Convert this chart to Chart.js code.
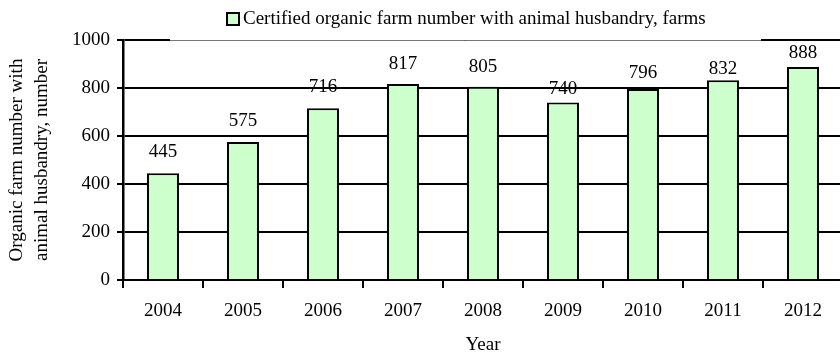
<!DOCTYPE html>
<html>
<head>
<meta charset="utf-8">
<title>Certified organic farms with animal husbandry</title>
<script src="https://cdn.jsdelivr.net/npm/chart.js@4/dist/chart.umd.min.js"></script>
<style>
  html, body { margin: 0; padding: 0; background: #fff; overflow: hidden; }
  #wrap { width: 840px; height: 356px; overflow: hidden; }
</style>
</head>
<body>
<div id="wrap"><canvas id="farmChart" width="850" height="356"></canvas></div>
<script>
// Certified organic farms with animal husbandry, by year
const years = ['2004', '2005', '2006', '2007', '2008', '2009', '2010', '2011', '2012'];
const farms = [445, 575, 716, 817, 805, 740, 796, 832, 888];
const yTicks = [0, 200, 400, 600, 800, 1000];

const seriesName = 'Certified organic farm number with animal husbandry, farms';
const yTitle = ['Organic farm number with', 'animal husbandry, number'];
const xTitle = 'Year';

// how far each value label sits above its bar (px)
const labelLift = [16, 16, 16, 15, 15, 8, 11, 6, 9];

const serif = '"Liberation Serif", "Times New Roman", serif';
const fontSize = 19;
const barFill = '#ccffcc';

Chart.defaults.font.family = serif;
Chart.defaults.font.size = fontSize;
Chart.defaults.color = '#000';

// value labels above the bars
const valueLabels = {
  id: 'valueLabels',
  afterDatasetsDraw(chart) {
    const ctx = chart.ctx;
    const meta = chart.getDatasetMeta(0);
    ctx.save();
    ctx.font = fontSize + 'px ' + serif;
    ctx.fillStyle = '#000';
    ctx.textAlign = 'center';
    ctx.textBaseline = 'alphabetic';
    meta.data.forEach((bar, i) => {
      ctx.fillText(String(farms[i]), bar.x, bar.y - labelLift[i]);
    });
    ctx.restore();
  }
};

// legend box sitting on top of the 1000 line
const topLegend = {
  id: 'topLegend',
  afterDraw(chart) {
    const ctx = chart.ctx;
    ctx.save();
    ctx.fillStyle = '#fff';
    ctx.fillRect(170, 0, 591, 40);
    ctx.strokeStyle = '#777';
    ctx.lineWidth = 1;
    ctx.beginPath();
    ctx.moveTo(170, 40.5);
    ctx.lineTo(761, 40.5);
    ctx.stroke();

    ctx.fillStyle = barFill;
    ctx.fillRect(227, 13, 12, 12);
    ctx.strokeStyle = '#000';
    ctx.lineWidth = 2;
    ctx.strokeRect(227, 13, 12, 12);

    ctx.fillStyle = '#000';
    ctx.font = fontSize + 'px ' + serif;
    ctx.textAlign = 'left';
    ctx.textBaseline = 'middle';
    ctx.fillText(seriesName, 243, 19);
    ctx.restore();
  }
};

new Chart(document.getElementById('farmChart'), {
  type: 'bar',
  data: {
    labels: years,
    datasets: [{
      label: seriesName,
      data: farms,
      backgroundColor: barFill,
      borderColor: '#000',
      borderWidth: 2,
      categoryPercentage: 1,
      barPercentage: 0.4
    }]
  },
  options: {
    responsive: false,
    animation: false,
    devicePixelRatio: 1,
    layout: { padding: { top: 40, right: 7, bottom: 0, left: 0 } },
    plugins: {
      legend: { display: false },
      tooltip: { enabled: false }
    },
    scales: {
      x: {
        afterFit: s => { s.height = 76; },
        grid: {
          drawOnChartArea: false,
          color: '#000',
          lineWidth: 2,
          tickLength: 8
        },
        border: { color: '#000', width: 2 },
        ticks: { padding: 12, color: '#000' },
        title: {
          display: true,
          text: xTitle,
          color: '#000',
          padding: { top: 0, bottom: 0 }
        }
      },
      y: {
        min: 0,
        max: 1000,
        afterFit: s => { s.width = 123; },
        afterBuildTicks: s => { s.ticks = yTicks.map(v => ({ value: v })); },
        grid: {
          color: '#000',
          lineWidth: 2,
          tickLength: 6
        },
        border: { color: '#000', width: 2.5 },
        ticks: { padding: 7, color: '#000', callback: v => String(v) },
        title: {
          display: true,
          text: yTitle,
          color: '#000',
          font: { lineHeight: 1.35 },
          padding: { top: 4, bottom: 0 }
        }
      }
    }
  },
  plugins: [valueLabels, topLegend]
});
</script>
</body>
</html>
